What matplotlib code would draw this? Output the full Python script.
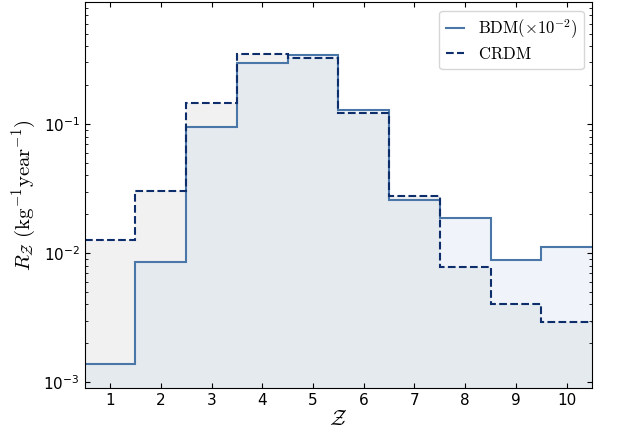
import numpy as np
import matplotlib
matplotlib.use("Agg")
import matplotlib.pyplot as plt

Z = [1, 2, 3, 4, 5, 6, 7, 8, 9, 10]
bdm = [1.38e-3, 8.5e-3, 0.095, 0.297, 0.343, 0.128, 0.0258, 0.0187, 8.8e-3, 0.0111]
crdm = [0.0126, 0.0303, 0.146, 0.349, 0.325, 0.122, 0.0277, 7.8e-3, 4.03e-3, 2.92e-3]

plt.rcParams['mathtext.fontset'] = 'cm'

edges = np.arange(len(Z) + 1) + 0.5

fig = plt.figure(figsize=(6.18, 4.34), dpi=100)
ax = fig.add_axes([0.137, 0.106, 0.821, 0.889])

# fills: CRDM-only (light gray), BDM-only (light blue), overlap (blue-gray)
ax.stairs(crdm, edges, baseline=1e-5, fill=True, color='#f1f1f1', lw=0)
ax.stairs(bdm, edges, baseline=1e-5, fill=True, color='#f0f4fa', lw=0)
ax.stairs(np.minimum(bdm, crdm), edges, baseline=1e-5, fill=True, color='#e5eaef', lw=0)

ax.stairs(bdm, edges, baseline=None, color='#4a76a8', lw=1.5,
          label=r'$\mathrm{BDM}(\times10^{-2})$')
ax.stairs(crdm, edges, baseline=None, color='#0d2d6b', lw=1.5, ls='--',
          label=r'$\mathrm{CRDM}$')

ax.set_yscale('log')
ax.set_xlim(0.5, 10.5)
ax.set_ylim(9e-4, 0.88)
ax.set_xticks(Z)
ax.tick_params(which='both', direction='in', top=True, right=True, labelsize=11)
ax.tick_params(axis='x', which='minor', top=False, bottom=False)
ax.set_xlabel(r'$\mathcal{Z}$', fontsize=15, labelpad=1)
ax.set_ylabel(r'$R_{\mathcal{Z}}\ (\mathrm{kg^{-1}year^{-1}})$', fontsize=15)
ax.legend(loc='upper right', fontsize=12, handlelength=1.1, labelspacing=0.25)

fig.savefig('out.png', dpi=100)
